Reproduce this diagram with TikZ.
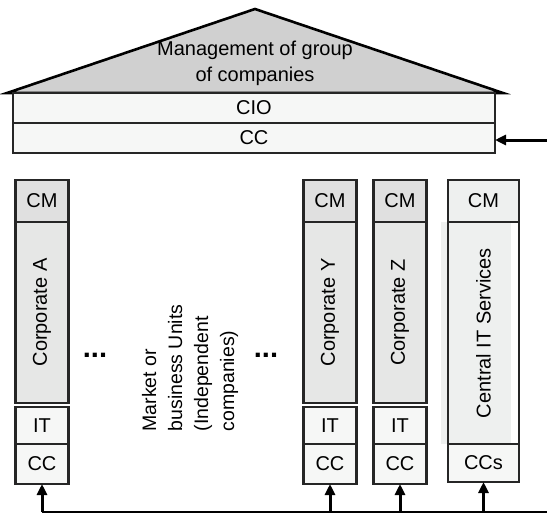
\documentclass[tikz,border=0pt]{standalone}
\usepackage{fontspec}
\setmainfont{Liberation Sans}
\usetikzlibrary{arrows.meta,positioning}
\definecolor{roofGray}{RGB}{208,208,208}
\definecolor{cmGray}{RGB}{224,224,224}
\definecolor{corpGray}{RGB}{230,231,230}
\definecolor{paleGray}{RGB}{246,247,246}
\definecolor{centralGray}{RGB}{238,240,239}

\begin{document}
\begin{tikzpicture}[x=1pt,y=-1pt,node distance=0pt,
  box/.style={draw=black!85,line width=2.6pt,inner sep=0pt,outer sep=0pt,font=\fontsize{20}{24}\selectfont},
  cmbox/.style={box,fill=cmGray,minimum width=53pt,minimum height=42pt},
  corpbox/.style={box,fill=corpGray,minimum width=53pt,minimum height=181pt},
  itbox/.style={box,fill=paleGray,minimum width=53pt,minimum height=37pt},
  ccbox/.style={box,fill=paleGray,minimum width=53pt,minimum height=40pt},
  vtext/.style={rotate=90,font=\fontsize{20}{24}\selectfont},
  dots/.style={font=\fontsize{29}{30}\selectfont\bfseries},
  up/.style={-{Triangle[length=11pt,width=10pt]},line width=3pt}]
  \fill[white] (0,0) rectangle (547,517);
  \useasboundingbox (0,0) rectangle (547,517);

  % group level
  \draw[line width=2.6pt,fill=roofGray] (7,93) -- (255,9) -- (503,93) -- cycle;
  \node[font=\fontsize{20}{26}\selectfont,align=center] (mgmt) at (255,63) {Management of group\\of companies};
  \node[box,fill=paleGray,minimum width=482pt,minimum height=30pt] (cio) at (254,108) {CIO};
  \node[box,fill=paleGray,minimum width=482pt,minimum height=30pt,below=of cio] (cc) {CC};
  \coordinate (ccIn) at (547,140);
  \draw[up] (ccIn) -- (cc.east |- ccIn);

  % corporate A
  \node[cmbox] (cmA) at (42,201) {CM};
  \node[corpbox,below=of cmA,label={[vtext]center:Corporate A}] (corpA) {};
  \node[itbox,below=4pt of corpA] (itA) {IT};
  \node[ccbox,below=of itA] (ccA) {CC};

  \node[dots,anchor=base] (dotsL) at (95,357) {...};
  \node[vtext,align=left,font=\fontsize{19.5}{26}\selectfont] (units) at (190,368) {Market or\\business Units\\(Independent\\companies)};
  \node[dots,anchor=base] (dotsR) at (266,357) {...};

  % corporate Y
  \node[cmbox] (cmY) at (330,201) {CM};
  \node[corpbox,below=of cmY,label={[vtext]center:Corporate Y}] (corpY) {};
  \node[itbox,below=4pt of corpY] (itY) {IT};
  \node[ccbox,below=of itY] (ccY) {CC};

  % corporate Z
  \node[cmbox] (cmZ) at (400,201) {CM};
  \node[corpbox,below=of cmZ,label={[vtext]center:Corporate Z}] (corpZ) {};
  \node[itbox,below=4pt of corpZ] (itZ) {IT};
  \node[ccbox,below=of itZ] (ccZ) {CC};

  % central IT services
  \fill[centralGray] (441,222) rectangle (511,444);
  \node[cmbox,fill=centralGray,minimum width=71pt] (cmC) at (483.5,201) {CM};
  \node[box,minimum width=71pt,minimum height=222pt,below=of cmC,label={[vtext]center:Central IT Services}] (central) {};
  \node[ccbox,minimum width=71pt,minimum height=38pt,below=of central] (ccC) {CCs};

  % feedback line
  \coordinate (busL) at (42,512);
  \coordinate (busR) at (547,512);
  \draw[line width=2.2pt] (busL) -- (busR);
  \draw[up] (busL) -- (ccA.south);
  \draw[up] (ccY.south |- busL) -- (ccY.south);
  \draw[up] (ccZ.south |- busL) -- (ccZ.south);
  \draw[up] (ccC.south |- busL) -- (ccC.south);
\end{tikzpicture}
\end{document}
